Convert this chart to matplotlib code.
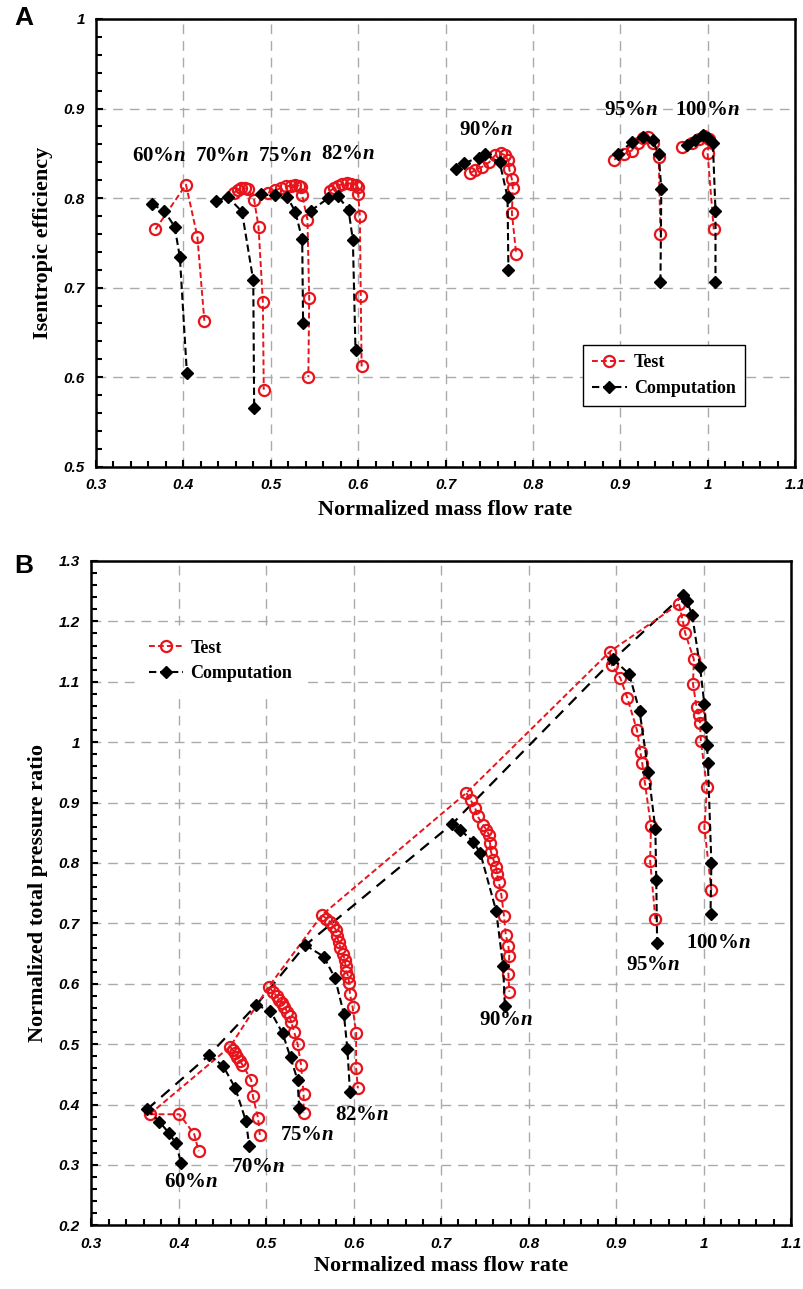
import matplotlib
matplotlib.use("Agg")
import matplotlib.pyplot as plt
from matplotlib.ticker import MultipleLocator, FuncFormatter
from matplotlib.lines import Line2D

plt.rcParams['mathtext.fontset'] = 'custom'
plt.rcParams['mathtext.it'] = 'Liberation Serif:italic:bold'
plt.rcParams['mathtext.rm'] = 'Liberation Serif:bold'

speeds = ['60', '70', '75', '82', '90', '95', '100']

# ---------- Panel A: isentropic efficiency ----------
effA_test_x = {
    '60': [0.368, 0.403, 0.416, 0.424],
    '70': [0.458, 0.462, 0.466, 0.470, 0.474, 0.481, 0.486, 0.491, 0.492],
    '75': [0.497, 0.505, 0.512, 0.518, 0.523, 0.528, 0.532, 0.535, 0.536, 0.542, 0.544, 0.543],
    '82': [0.568, 0.572, 0.577, 0.582, 0.587, 0.592, 0.597, 0.600, 0.600, 0.602, 0.603, 0.604],
    '90': [0.728, 0.734, 0.742, 0.750, 0.757, 0.763, 0.768, 0.772, 0.773, 0.776, 0.777, 0.776, 0.781],
    '95': [0.893, 0.904, 0.913, 0.920, 0.926, 0.932, 0.938, 0.944, 0.946],
    '100': [0.971, 0.982, 0.990, 0.996, 1.002, 1.000, 1.007],
}
effA_test_y = {
    '60': [0.765, 0.815, 0.757, 0.663],
    '70': [0.806, 0.809, 0.811, 0.811, 0.810, 0.798, 0.768, 0.684, 0.586],
    '75': [0.806, 0.809, 0.811, 0.813, 0.814, 0.815, 0.814, 0.812, 0.803, 0.776, 0.688, 0.600],
    '82': [0.808, 0.811, 0.814, 0.816, 0.817, 0.816, 0.815, 0.812, 0.805, 0.780, 0.691, 0.612],
    '90': [0.828, 0.831, 0.835, 0.840, 0.848, 0.850, 0.848, 0.842, 0.832, 0.821, 0.811, 0.783, 0.737],
    '95': [0.843, 0.849, 0.853, 0.862, 0.867, 0.868, 0.862, 0.846, 0.760],
    '100': [0.857, 0.861, 0.866, 0.869, 0.866, 0.850, 0.765],
}
effA_comp_x = {
    '60': [0.364, 0.378, 0.390, 0.396, 0.404],
    '70': [0.437, 0.451, 0.467, 0.480, 0.481],
    '75': [0.489, 0.505, 0.519, 0.528, 0.536, 0.537],
    '82': [0.546, 0.566, 0.577, 0.589, 0.594, 0.597],
    '90': [0.712, 0.721, 0.738, 0.745, 0.762, 0.771, 0.772],
    '95': [0.897, 0.914, 0.926, 0.937, 0.944, 0.947, 0.946],
    '100': [0.976, 0.986, 0.995, 1.001, 1.006, 1.009, 1.009],
}
effA_comp_y = {
    '60': [0.793, 0.786, 0.768, 0.734, 0.605],
    '70': [0.797, 0.801, 0.785, 0.708, 0.566],
    '75': [0.804, 0.803, 0.801, 0.785, 0.754, 0.661],
    '82': [0.786, 0.800, 0.802, 0.787, 0.753, 0.630],
    '90': [0.832, 0.839, 0.845, 0.849, 0.840, 0.801, 0.720],
    '95': [0.849, 0.863, 0.868, 0.865, 0.849, 0.810, 0.706],
    '100': [0.859, 0.865, 0.870, 0.867, 0.861, 0.786, 0.706],
}
labelA_pos = {
    '60': (0.372, 0.847), '70': (0.444, 0.847), '75': (0.516, 0.847),
    '82': (0.589, 0.849), '90': (0.746, 0.876), '95': (0.912, 0.898),
    '100': (1.000, 0.898),
}

# ---------- Panel B: normalized total pressure ratio ----------
prB_test_x = {
    '60': [0.367, 0.401, 0.418, 0.423],
    '70': [0.459, 0.462, 0.465, 0.467, 0.470, 0.473, 0.483, 0.485, 0.491, 0.493],
    '75': [0.503, 0.508, 0.512, 0.515, 0.518, 0.521, 0.524, 0.527, 0.529, 0.532, 0.536, 0.540, 0.543, 0.543],
    '82': [0.564, 0.569, 0.573, 0.577, 0.580, 0.581, 0.583, 0.585, 0.588, 0.590, 0.591, 0.592, 0.594, 0.595,
           0.596, 0.599, 0.603, 0.603, 0.605],
    '90': [0.729, 0.734, 0.739, 0.742, 0.748, 0.752, 0.755, 0.756, 0.757, 0.760, 0.763, 0.764, 0.766, 0.769,
           0.772, 0.774, 0.777, 0.778, 0.777, 0.778],
    '95': [0.893, 0.895, 0.905, 0.913, 0.924, 0.928, 0.930, 0.933, 0.940, 0.939, 0.945],
    '100': [0.972, 0.976, 0.979, 0.989, 0.988, 0.992, 0.995, 0.996, 0.997, 1.004, 1.001, 1.009],
}
prB_test_y = {
    '60': [0.384, 0.384, 0.351, 0.323],
    '70': [0.496, 0.490, 0.485, 0.479, 0.473, 0.466, 0.441, 0.414, 0.377, 0.349],
    '75': [0.595, 0.587, 0.580, 0.574, 0.569, 0.562, 0.554, 0.546, 0.536, 0.521, 0.501, 0.466, 0.418, 0.386],
    '82': [0.714, 0.708, 0.703, 0.696, 0.689, 0.679, 0.670, 0.660, 0.650, 0.639, 0.629, 0.620, 0.612, 0.602,
           0.583, 0.561, 0.519, 0.460, 0.427],
    '90': [0.916, 0.904, 0.891, 0.877, 0.863, 0.855, 0.846, 0.833, 0.819, 0.805, 0.794, 0.782, 0.769, 0.747,
           0.712, 0.681, 0.663, 0.646, 0.617, 0.587],
    '95': [1.150, 1.128, 1.106, 1.073, 1.020, 0.983, 0.965, 0.933, 0.861, 0.804, 0.707],
    '100': [1.229, 1.203, 1.181, 1.137, 1.096, 1.059, 1.045, 1.032, 1.002, 0.925, 0.859, 0.755],
}
prB_comp_x = {
    '60': [0.364, 0.378, 0.389, 0.397, 0.403],
    '70': [0.435, 0.451, 0.465, 0.477, 0.481],
    '75': [0.489, 0.505, 0.519, 0.528, 0.536, 0.538],
    '82': [0.545, 0.566, 0.579, 0.589, 0.593, 0.596],
    '90': [0.713, 0.722, 0.737, 0.745, 0.763, 0.771, 0.773],
    '95': [0.897, 0.915, 0.927, 0.937, 0.945, 0.946, 0.947],
    '100': [0.977, 0.981, 0.987, 0.996, 1.001, 1.003, 1.004, 1.005, 1.009, 1.008],
}
prB_comp_y = {
    '60': [0.392, 0.372, 0.353, 0.336, 0.303],
    '70': [0.482, 0.464, 0.427, 0.373, 0.331],
    '75': [0.565, 0.555, 0.518, 0.478, 0.441, 0.394],
    '82': [0.664, 0.645, 0.609, 0.550, 0.492, 0.421],
    '90': [0.865, 0.855, 0.835, 0.816, 0.721, 0.629, 0.563],
    '95': [1.137, 1.113, 1.051, 0.951, 0.856, 0.772, 0.668],
    '100': [1.244, 1.233, 1.211, 1.125, 1.063, 1.025, 0.996, 0.966, 0.800, 0.716],
}
labelB_pos = {
    '60': (0.415, 0.272), '70': (0.491, 0.297), '75': (0.547, 0.350),
    '82': (0.610, 0.383), '90': (0.774, 0.540), '95': (0.942, 0.631),
    '100': (1.017, 0.668),
}

RED = '#e8141c'
test_style = dict(color=RED, linestyle=(0, (3, 1.6)), linewidth=1.4, marker='o',
                  markersize=8, markerfacecolor='none', markeredgecolor=RED,
                  markeredgewidth=1.6)
comp_style = dict(color='black', linestyle=(0, (3.5, 1.8)), linewidth=1.5, marker='D',
                  markersize=6.5, markerfacecolor='black', markeredgecolor='black')

fig = plt.figure(figsize=(8.04, 12.89), dpi=100)
W, H = 804.0, 1289.0
axA = fig.add_axes([96 / W, 1 - 466.7 / H, 699 / W, 447.7 / H])
axB = fig.add_axes([91 / W, 1 - 1225.4 / H, 700 / W, 664.4 / H])

titlefont = dict(family='Liberation Serif', weight='bold', size=16)


def fmt(v, pos):
    return f'{v:.10g}'


def style_axes(ax, ylo, yhi):
    ax.set_xlim(0.3, 1.1)
    ax.set_ylim(ylo, yhi)
    ax.xaxis.set_major_locator(MultipleLocator(0.1))
    ax.yaxis.set_major_locator(MultipleLocator(0.1))
    ax.xaxis.set_minor_locator(MultipleLocator(0.02))
    ax.yaxis.set_minor_locator(MultipleLocator(0.02))
    ax.xaxis.set_major_formatter(FuncFormatter(fmt))
    ax.yaxis.set_major_formatter(FuncFormatter(fmt))
    ax.grid(True, which='major', color='#aaaaaa', linestyle=(0, (7, 5)), linewidth=1.0)
    ax.set_axisbelow(True)
    ax.tick_params(which='both', direction='in', width=1.5, color='black',
                   top=False, right=False, pad=8)
    ax.tick_params(which='major', length=5)
    ax.tick_params(which='minor', length=4)
    for lab in ax.get_xticklabels() + ax.get_yticklabels():
        lab.set_fontfamily('Liberation Sans')
        lab.set_fontweight('bold')
        lab.set_fontstyle('italic')
        lab.set_fontsize(11)
    for sp in ax.spines.values():
        sp.set_linewidth(1.8)
        sp.set_color('black')


def speed_label(ax, s, xy):
    ax.text(xy[0], xy[1], s + r'%$\mathit{n}$', ha='center', va='center',
            fontsize=15, family='Liberation Serif', fontweight='bold')


# Panel A
style_axes(axA, 0.5, 1.0)
for s in speeds:
    axA.plot(effA_test_x[s], effA_test_y[s], **test_style, zorder=3)
    axA.plot(effA_comp_x[s], effA_comp_y[s], **comp_style, zorder=4)
    speed_label(axA, s, labelA_pos[s])
axA.set_ylabel('Isentropic efficiency', **titlefont, labelpad=8)
axA.set_xlabel('Normalized mass flow rate', **titlefont, labelpad=6)

handles = [Line2D([], [], **test_style), Line2D([], [], **comp_style)]
legA = axA.legend(handles, ['Test', 'Computation'], loc='upper left',
                  bbox_to_anchor=(0.697, 0.272), borderaxespad=0.0,
                  frameon=True, fancybox=False, framealpha=1.0,
                  edgecolor='black', handlelength=1.9, handletextpad=0.4,
                  prop=dict(family='Liberation Serif', weight='bold', size=13),
                  borderpad=0.5, labelspacing=0.5)
legA.get_frame().set_linewidth(1.0)

# Panel B
style_axes(axB, 0.2, 1.3)
surge_tx = [prB_test_x[s][0] for s in speeds]
surge_ty = [prB_test_y[s][0] for s in speeds]
surge_cx = [prB_comp_x[s][0] for s in speeds]
surge_cy = [prB_comp_y[s][0] for s in speeds]
axB.plot(surge_cx, surge_cy, color='black', linestyle=(0, (5, 3.5)), linewidth=1.6, zorder=2)
axB.plot(surge_tx, surge_ty, color=RED, linestyle=(0, (3, 1.6)), linewidth=1.4, zorder=2)
for s in speeds:
    axB.plot(prB_test_x[s], prB_test_y[s], **test_style, zorder=3)
    axB.plot(prB_comp_x[s], prB_comp_y[s], **comp_style, zorder=4)
    speed_label(axB, s, labelB_pos[s])
axB.set_ylabel('Normalized total pressure ratio', **titlefont, labelpad=8)
axB.set_xlabel('Normalized mass flow rate', **titlefont, labelpad=4)

legB = axB.legend(handles, ['Test', 'Computation'], loc='upper left',
                  bbox_to_anchor=(0.07, 0.895), borderaxespad=0.0,
                  frameon=True, fancybox=False, framealpha=1.0,
                  edgecolor='white', handlelength=1.9, handletextpad=0.4,
                  prop=dict(family='Liberation Serif', weight='bold', size=13),
                  borderpad=0.5, labelspacing=0.45)

fig.text(14 / W, 1 - 18 / H, 'A', fontsize=19, fontweight='bold', family='Liberation Sans',
         ha='left', va='center')
fig.text(14 / W, 1 - 566 / H, 'B', fontsize=19, fontweight='bold', family='Liberation Sans',
         ha='left', va='center')

fig.savefig('out.png', dpi=100)
